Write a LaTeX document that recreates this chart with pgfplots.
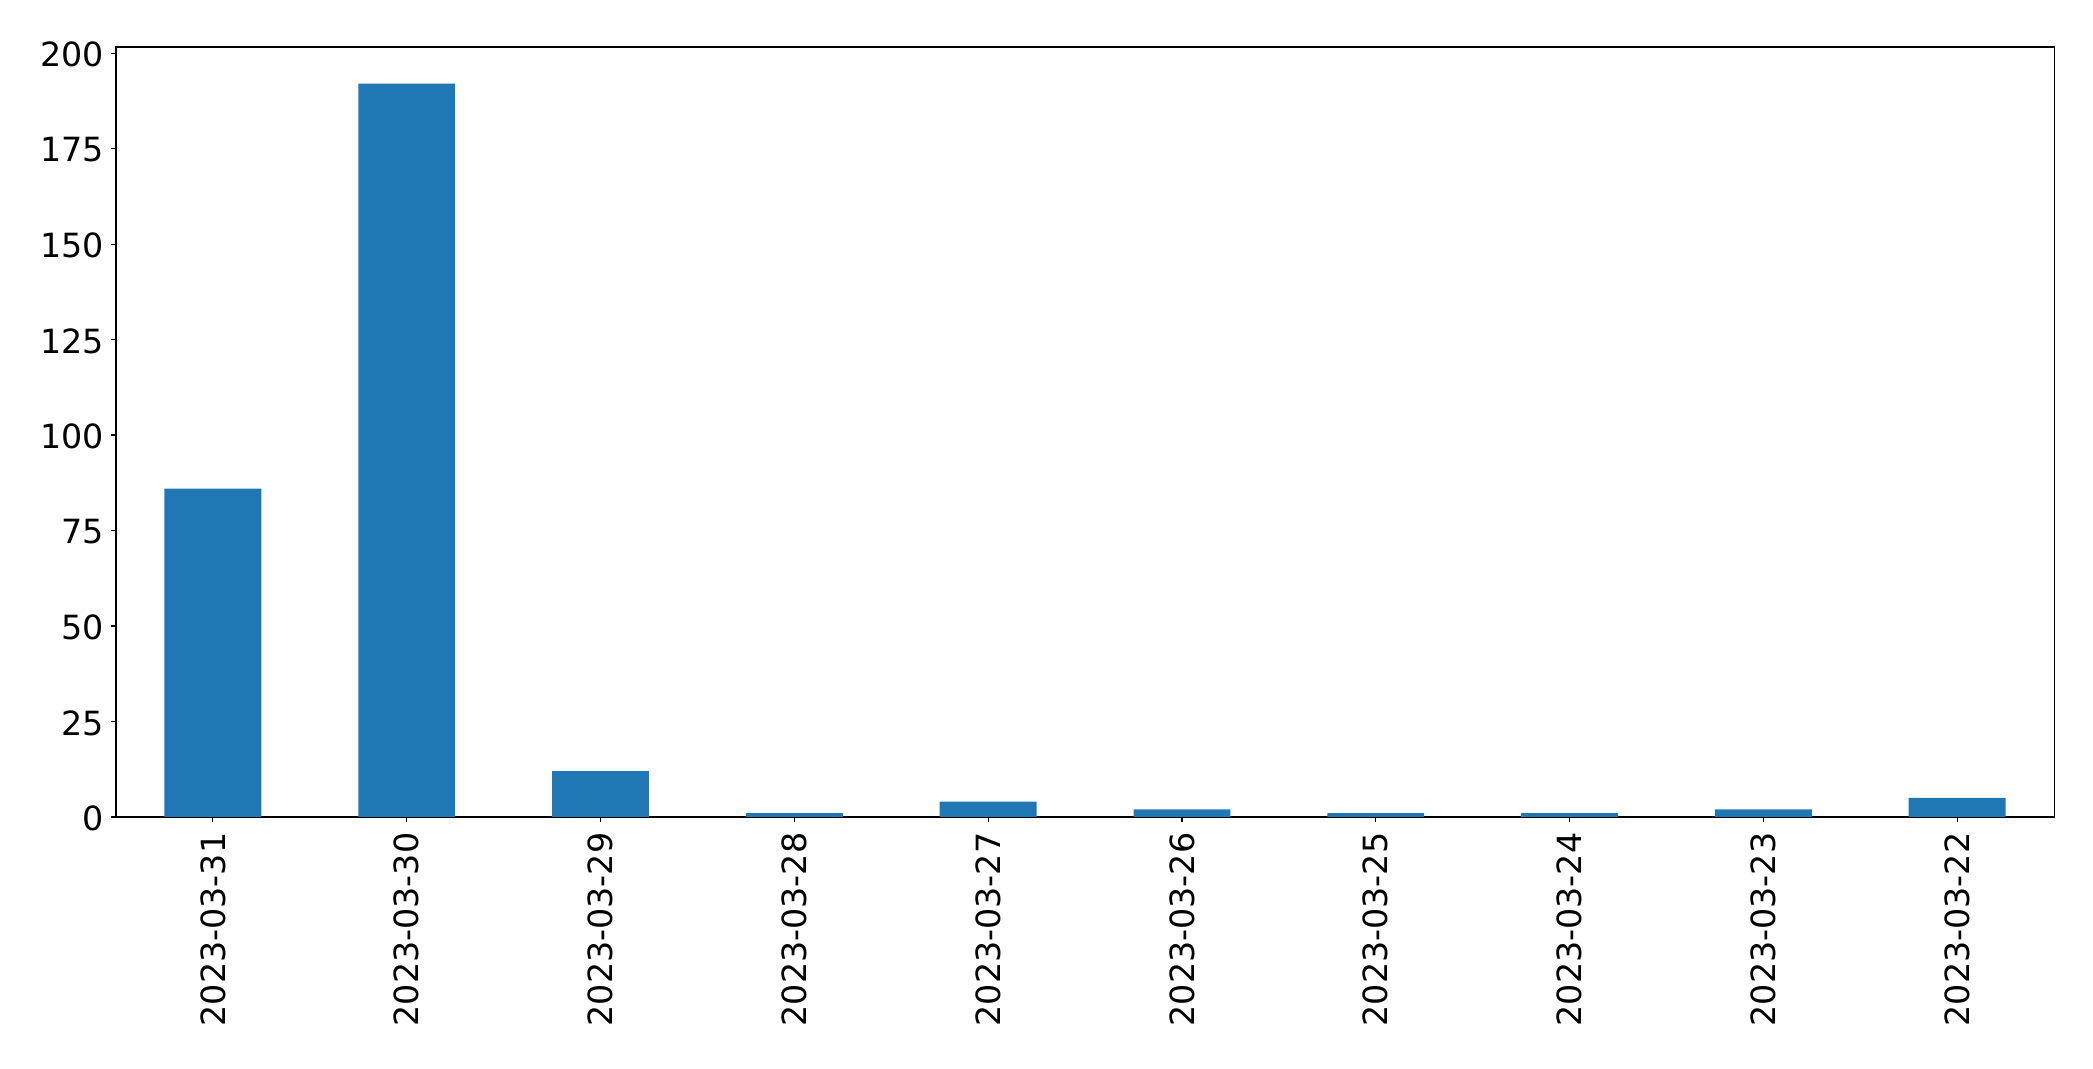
\documentclass[border=0pt]{standalone}
\usepackage{pgfplots}
\pgfplotsset{compat=1.18}
\usepackage{fontspec}
\setmainfont{DejaVu Sans}
\definecolor{mplblue}{HTML}{1F77B4}
\begin{document}
\fontsize{24pt}{28pt}\selectfont
\begin{tikzpicture}
\useasboundingbox (0,0) rectangle (1506.96pt,769.68pt);
\begin{axis}[
  at={(83.52pt,181.44pt)}, anchor=south west,
  scale only axis, width=1395.4pt, height=554.4pt,
  xmin=-0.5, xmax=9.5, ymin=0, ymax=201.6,
  xtick={0,...,9},
  xticklabels={2023-03-31,2023-03-30,2023-03-29,2023-03-28,2023-03-27,2023-03-26,2023-03-25,2023-03-24,2023-03-23,2023-03-22},
  ytick={0,25,...,200},
  tick align=outside, major tick length=3.5pt,
  xtick pos=left, ytick pos=left,
  tick style={black, line width=0.8pt},
  axis line style={line width=0.8pt},
  /pgf/number format/assume math mode=true,
  tick label style={font=\fontsize{24pt}{28pt}\selectfont},
  xticklabel style={rotate=90, anchor=east, xshift=0.5pt},
  yticklabel style={xshift=3pt, yshift=-1pt},
  ybar, bar width=0.5,
]
\addplot[fill=mplblue, draw=none] coordinates {
  (0,86) (1,192) (2,12) (3,1) (4,4) (5,2) (6,1) (7,1) (8,2) (9,5)
};
\end{axis}
\end{tikzpicture}
\end{document}
